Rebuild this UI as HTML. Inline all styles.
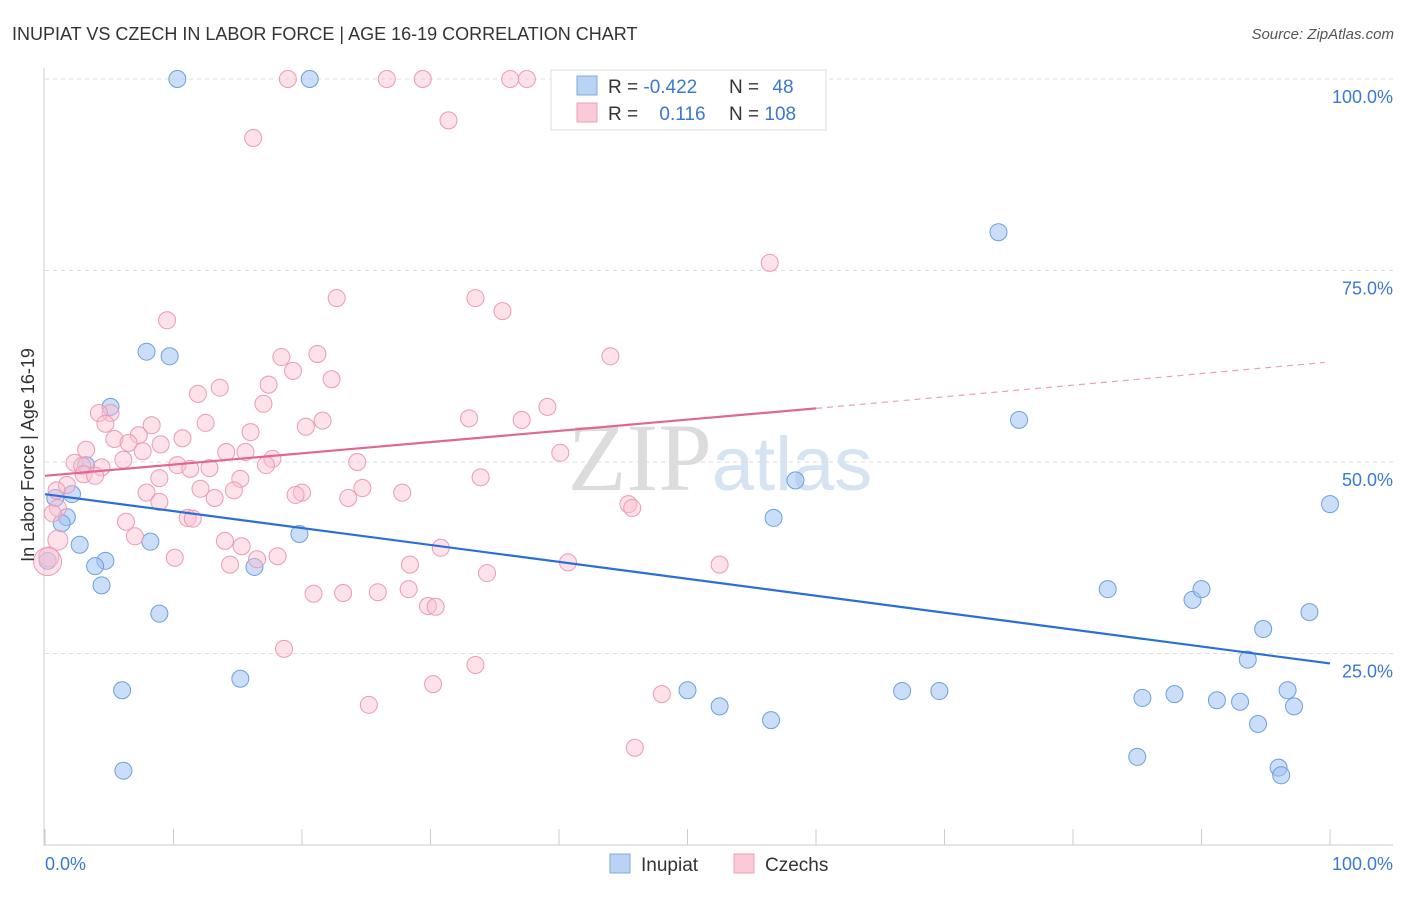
<!DOCTYPE html>
<html><head><meta charset="utf-8"><style>
body{margin:0;background:#fff;font-family:"Liberation Sans",sans-serif}
svg text{font-family:"Liberation Sans",sans-serif}
</style></head><body>
<svg id="c" width="1406" height="892" xmlns="http://www.w3.org/2000/svg">
<text x="12" y="40" font-size="18" fill="#333">INUPIAT VS CZECH IN LABOR FORCE | AGE 16-19 CORRELATION CHART</text>
<text x="1394" y="39" font-size="15" fill="#555" font-style="italic" text-anchor="end">Source: ZipAtlas.com</text>
<text x="720" y="490" font-size="96" fill="#e4e4e4" text-anchor="middle"><tspan font-family="Liberation Serif" fill="#dcdcdc">ZIP</tspan><tspan fill="#d6e3f3" font-size="76">atlas</tspan></text>
<g id="grid"></g>
<g id="axes"></g>
<g id="pts"></g>
<g id="trend"></g>
<text transform="translate(34,455) rotate(-90)" font-size="18" fill="#333" text-anchor="middle">In Labor Force | Age 16-19</text>
<text x="45" y="870" font-size="18" fill="#3a78d4">0.0%</text>
<text x="1393" y="870" font-size="18" fill="#3a78d4" text-anchor="end">100.0%</text>
<g>
<rect x="551" y="70" width="275" height="60" fill="#fff" stroke="#ddd"/>
<rect x="577" y="76" width="20" height="19" fill="#b9d3f5" stroke="#7fa9e2"/>
<rect x="577" y="103" width="20" height="19" fill="#fbc9d8" stroke="#eea0b8"/>
<text x="608" y="93" font-size="19" fill="#333">R = <tspan fill="#3a78d4">-0.422</tspan></text>
<text x="729" y="93" font-size="19" fill="#333">N = <tspan fill="#3a78d4" dx="8">48</tspan></text>
<text x="608" y="120" font-size="19" fill="#333">R = <tspan fill="#3a78d4" dx="16">0.116</tspan></text>
<text x="729" y="120" font-size="19" fill="#333">N = <tspan fill="#3a78d4">108</tspan></text>
</g>
<g>
<rect x="610" y="854" width="20" height="19" fill="#b9d3f5" stroke="#7fa9e2"/>
<text x="641" y="871" font-size="19" fill="#333">Inupiat</text>
<rect x="734" y="854" width="20" height="19" fill="#fbc9d8" stroke="#eea0b8"/>
<text x="765" y="871" font-size="19" fill="#333">Czechs</text>
</g>
</svg>
<script>
const yTicks=[100,75,50,25];
const yTickLabels=["100.0%","75.0%","50.0%","25.0%"];
const xTicks=[0,10,20,30,40,50,60,70,80,90,100];
const inupiatX=[10.3,20.6,74.2,75.8,58.4,100,56.7,7.9,9.7,5.1,3.2,2.1,0.8,1.7,1.3,2.7,8.2,4.7,3.9,0.2,4.4,8.9,16.3,19.8,6.0,15.2,6.1,50.0,52.5,56.5,66.7,69.6,82.7,85.0,85.4,87.9,89.3,90.0,91.2,93.0,93.6,94.8,94.4,96.0,96.2,96.7,97.2,98.4];
const inupiatY=[100,100,80.0,55.5,47.6,44.5,42.7,64.4,63.8,57.2,49.6,45.8,45.3,42.8,42.0,39.2,39.6,37.1,36.4,37.1,33.9,30.2,36.3,40.6,20.2,21.7,9.7,20.2,18.1,16.3,20.1,20.1,33.4,11.5,19.2,19.7,32.0,33.4,18.9,18.7,24.2,28.2,15.8,10.1,9.1,20.2,18.1,30.4];
const czechX=[18.9,26.6,29.4,36.2,37.5,55.5,31.4,16.2,56.4,22.7,33.5,35.6,9.5,21.2,44.0,18.4,19.3,22.3,13.6,17.4,11.9,17.0,39.1,5.1,4.2,33.0,37.1,12.5,8.3,21.6,4.7,20.3,16.0,7.3,5.4,10.7,6.5,9.0,3.2,7.6,40.1,14.1,15.6,6.1,17.7,24.3,2.3,4.4,2.9,10.3,12.8,11.3,17.2,3.0,3.9,8.9,33.9,15.2,1.7,0.9,12.1,7.9,14.7,24.7,20.0,19.5,23.6,27.8,13.2,8.9,45.4,45.7,1.0,0.6,11.1,11.5,6.3,7.0,14.0,30.8,15.3,16.5,18.1,10.1,14.4,28.4,40.7,52.5,34.4,20.9,23.2,25.9,28.3,29.8,30.4,18.6,33.5,30.2,25.2,48.0,45.9,0.3,1.0,0.2];
const czechY=[100,100,100,100,100,100,94.6,92.3,76.0,71.4,71.4,69.7,68.5,64.1,63.8,63.7,61.9,60.8,59.7,60.1,58.9,57.6,57.2,56.4,56.4,55.7,55.5,55.1,54.8,55.4,55.0,54.6,53.9,53.5,53.0,53.1,52.5,52.3,51.6,51.4,51.2,51.3,51.3,50.3,50.4,50.0,49.9,49.3,49.5,49.6,49.2,49.1,49.6,48.4,48.2,47.9,48.0,47.8,47.0,46.3,46.5,46.0,46.3,46.6,46.0,45.7,45.3,46.0,45.3,44.8,44.5,44.0,44.0,43.3,42.7,42.6,42.2,40.3,39.7,38.8,39.0,37.3,37.7,37.5,36.6,36.6,36.9,36.6,35.5,32.8,32.9,33.0,33.4,31.2,31.1,25.6,23.5,21.0,18.3,19.7,12.7,37.6,39.8,37.0];
const inupiatTrend=[45.8,23.7];
const czechTrend=[48.2,57.0,63.0];
const NS="http://www.w3.org/2000/svg";
const X=v=>45+v*12.85, Y=v=>845-v*7.66;
function mk(tag,attrs,parent){const e=document.createElementNS(NS,tag);for(const k in attrs)e.setAttribute(k,attrs[k]);document.getElementById(parent).appendChild(e);return e;}
yTicks.forEach((t,i)=>{
 const l=mk('line',{x1:45,x2:1393,y1:Y(t),y2:Y(t),stroke:'#ddd','stroke-dasharray':'4,4'},'grid');
 
 
 const tx=mk('text',{x:1393,y:Y(t)+24,'font-size':18,fill:'#3a78d4','text-anchor':'end'},'grid');
 tx.textContent=yTickLabels[i];
 
 
});
const ax=mk('line',{x1:44,x2:44,y1:68,y2:846,stroke:'#ccc'},'axes');


const bx=mk('line',{x1:44,x2:1393,y1:845,y2:845,stroke:'#ccc'},'axes');


xTicks.forEach(t=>{
 const l=mk('line',{x1:X(t),x2:X(t),y1:845,y2:829,stroke:'#ccc'},'axes');
 
 
});
inupiatX.forEach((v,i)=>{
 const c=mk('circle',{cx:X(v),cy:Y(inupiatY[i]),r:8.5,fill:'rgba(160,195,240,0.55)',stroke:'#6d9fe0','stroke-width':1},'pts');
 
 
});
czechX.forEach((v,i)=>{
 const c=mk('circle',{cx:X(v),cy:Y(czechY[i]),r:i>=czechX.length-3?(i==czechX.length-1?14:10):8.5,fill:'rgba(250,190,208,0.45)',stroke:'#eb9ab5','stroke-width':1},'pts');
 
 
});
const tb=mk('line',{x1:X(0),y1:Y(inupiatTrend[0]),x2:X(100),y2:Y(inupiatTrend[1]),stroke:'#2a6fd8','stroke-width':2.2},'trend');


const tp=mk('line',{x1:X(0),y1:Y(czechTrend[0]),x2:X(60),y2:Y(czechTrend[1]),stroke:'#e06890','stroke-width':2.2},'trend');


const td=mk('line',{x1:X(60),y1:Y(czechTrend[1]),x2:X(99.6),y2:Y(czechTrend[2]),stroke:'#e8a0b8','stroke-width':1.2,'stroke-dasharray':'6,5'},'trend');


</script>
</body></html>
